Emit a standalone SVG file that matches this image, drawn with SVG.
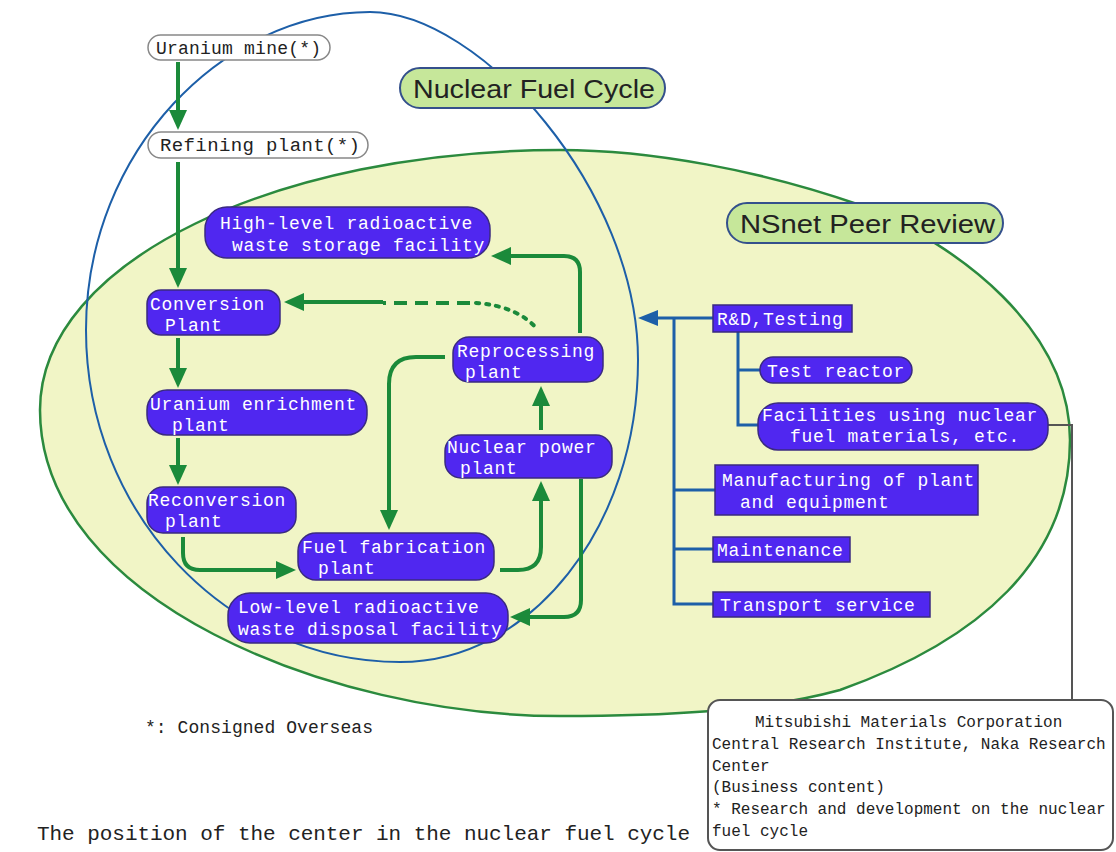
<svg xmlns="http://www.w3.org/2000/svg" width="1116" height="852" viewBox="0 0 1116 852">
<defs>
<style>
.bt{font-family:"Liberation Mono","DejaVu Sans Mono",monospace;font-size:18px;letter-spacing:0.7px;fill:#ffffff}
.dt{font-family:"Liberation Mono","DejaVu Sans Mono",monospace;fill:#222222}
.lt{font-family:"Liberation Sans",Arial,sans-serif;font-size:25px;fill:#222222}
.box{fill:#5027f0;stroke:#3a2a80;stroke-width:1.5}
.wpill{fill:#ffffff;stroke:#888888;stroke-width:1.5}
.gpill{fill:#c6e79a;stroke:#34508c;stroke-width:2}
.g{fill:none;stroke:#1b8a3a;stroke-width:4}
.b{fill:none;stroke:#1d5fa8;stroke-width:3}
</style>
<marker id="ga" viewBox="0 0 20 20" refX="14" refY="10" markerWidth="20" markerHeight="20" markerUnits="userSpaceOnUse" orient="auto">
<path d="M0,1 L20,10 L0,19 z" fill="#1b8a3a"/>
</marker>
<marker id="ba" viewBox="0 0 20 16" refX="14" refY="8" markerWidth="20" markerHeight="16" markerUnits="userSpaceOnUse" orient="auto">
<path d="M0,0 L20,8 L0,16 z" fill="#1d5fa8"/>
</marker>
</defs>
<rect width="1116" height="852" fill="#ffffff"/>

<g id="regions">
<path id="nsnet-region" d="M560,150 C650,150 760,170 860,205 C960,245 1070,330 1070,440 C1070,560 980,640 840,690 C760,712 660,716 560,716 C330,716 40,600 40,410 C40,260 280,150 560,150 Z" fill="#f1f5c6" stroke="#2b8a3e" stroke-width="2.5"/>
<path id="fuel-cycle-region" d="M370,12 C480,12 638,190 638,360 C638,527 531,662 400,662 C227,662 86,513 86,330 C86,150 225,12 370,12 Z" fill="none" stroke="#1d5fa8" stroke-width="2"/>
</g>

<g id="connectors">
<path class="g" d="M178,62 V124" marker-end="url(#ga)"/>
<path class="g" d="M178,162 V282" marker-end="url(#ga)"/>
<path class="g" d="M178,338 V382" marker-end="url(#ga)"/>
<path class="g" d="M178,438 V479" marker-end="url(#ga)"/>
<path class="g" d="M183,537 V553 Q183,570 200,570 H290" marker-end="url(#ga)"/>
<path class="g" d="M500,570 H518 Q541,570 541,547 V487" marker-end="url(#ga)"/>
<path class="g" d="M541,430 V392" marker-end="url(#ga)"/>
<path class="g" d="M580,333 V272 Q580,256 564,256 H497" marker-end="url(#ga)"/>
<path class="g" d="M383,302 H290" marker-end="url(#ga)"/>
<path class="g" d="M470,303 H383" stroke-dasharray="13,8"/>
<path class="g" d="M476,303 Q518,306 538,330" stroke-dasharray="3,7" stroke-linecap="round"/>
<path class="g" d="M445,357 H416 Q389,357 389,384 V524" marker-end="url(#ga)"/>
<path class="g" d="M581,479 V600 Q581,617 564,617 H516" marker-end="url(#ga)"/>
<path class="b" d="M713,318 H644" marker-end="url(#ba)"/>
<path class="b" d="M674,318 V604 H713"/>
<path class="b" d="M674,490 H715"/>
<path class="b" d="M674,549 H713"/>
<path class="b" d="M738,332 V425 H758"/>
<path class="b" d="M738,370 H760"/>
<path d="M1048,425 H1072 V700" fill="none" stroke="#555555" stroke-width="2"/>
</g>

<g id="uranium-mine">
<rect class="wpill" x="148" y="35" width="182" height="25" rx="12.5"/>
<text class="dt" x="156" y="54" font-size="18" textLength="165">Uranium mine(*)</text>
</g>
<g id="refining-plant">
<rect class="wpill" x="148" y="132" width="220" height="26" rx="13"/>
<text class="dt" x="160" y="151" font-size="19" textLength="200">Refining plant(*)</text>
</g>
<g id="label-nuclear-fuel-cycle">
<rect class="gpill" x="400" y="68" width="265" height="40" rx="20"/>
<text class="lt" x="413" y="98" textLength="242" lengthAdjust="spacingAndGlyphs">Nuclear Fuel Cycle</text>
</g>
<g id="label-nsnet">
<rect class="gpill" x="727" y="203" width="276" height="40" rx="20"/>
<text class="lt" x="740" y="233" textLength="255" lengthAdjust="spacingAndGlyphs">NSnet Peer Review</text>
</g>

<g id="high-level">
<rect class="box" x="205" y="207" width="285" height="51" rx="22"/>
<text class="bt" x="220" y="229">High-level radioactive</text>
<text class="bt" x="232" y="251">waste storage facility</text>
</g>
<g id="conversion">
<rect class="box" x="147" y="290" width="133" height="45" rx="14"/>
<text class="bt" x="150" y="310">Conversion</text>
<text class="bt" x="165" y="331">Plant</text>
</g>
<g id="enrichment">
<rect class="box" x="147" y="390" width="220" height="45" rx="20"/>
<text class="bt" x="150" y="410">Uranium enrichment</text>
<text class="bt" x="172" y="431">plant</text>
</g>
<g id="reconversion">
<rect class="box" x="147" y="487" width="149" height="46" rx="16"/>
<text class="bt" x="148" y="506">Reconversion</text>
<text class="bt" x="165" y="527">plant</text>
</g>
<g id="fuel-fabrication">
<rect class="box" x="298" y="533" width="196" height="47" rx="18"/>
<text class="bt" x="302" y="553">Fuel fabrication</text>
<text class="bt" x="318" y="574">plant</text>
</g>
<g id="low-level">
<rect class="box" x="228" y="593" width="280" height="50" rx="22"/>
<text class="bt" x="238" y="613">Low-level radioactive</text>
<text class="bt" x="238" y="635">waste disposal facility</text>
</g>
<g id="reprocessing">
<rect class="box" x="453" y="337" width="150" height="45" rx="16"/>
<text class="bt" x="457" y="357">Reprocessing</text>
<text class="bt" x="465" y="378">plant</text>
</g>
<g id="nuclear-power">
<rect class="box" x="445" y="435" width="167" height="43" rx="16"/>
<text class="bt" x="447" y="453">Nuclear power</text>
<text class="bt" x="460" y="474">plant</text>
</g>

<g id="rd-testing">
<rect class="box" x="713" y="305" width="139" height="27"/>
<text class="bt" x="717" y="325">R&amp;D,Testing</text>
</g>
<g id="test-reactor">
<rect class="box" x="760" y="357" width="152" height="26" rx="13"/>
<text class="bt" x="767" y="377">Test reactor</text>
</g>
<g id="facilities">
<rect class="box" x="758" y="403" width="290" height="47" rx="20"/>
<text class="bt" x="762" y="421">Facilities using nuclear</text>
<text class="bt" x="790" y="442">fuel materials, etc.</text>
</g>
<g id="manufacturing">
<rect class="box" x="715" y="465" width="263" height="50"/>
<text class="bt" x="722" y="486">Manufacturing of plant</text>
<text class="bt" x="740" y="508">and equipment</text>
</g>
<g id="maintenance">
<rect class="box" x="713" y="537" width="137" height="25"/>
<text class="bt" x="717" y="556">Maintenance</text>
</g>
<g id="transport">
<rect class="box" x="713" y="592" width="217" height="25"/>
<text class="bt" x="720" y="611">Transport service</text>
</g>

<g id="note">
<text class="dt" x="145" y="733" font-size="18" textLength="228">*: Consigned Overseas</text>
</g>
<g id="caption">
<text class="dt" x="37" y="840" font-size="21" textLength="653">The position of the center in the nuclear fuel cycle</text>
</g>
<g id="mitsubishi">
<rect x="708" y="700" width="405" height="150" rx="12" fill="#ffffff" stroke="#555555" stroke-width="2"/>
<text class="dt" font-size="16">
<tspan x="755" y="727">Mitsubishi Materials Corporation</tspan>
<tspan x="712" y="749">Central Research Institute, Naka Research</tspan>
<tspan x="712" y="771">Center</tspan>
<tspan x="712" y="792">(Business content)</tspan>
<tspan x="712" y="814">* Research and development on the nuclear</tspan>
<tspan x="712" y="836">fuel cycle</tspan>
</text>
</g>
</svg>
